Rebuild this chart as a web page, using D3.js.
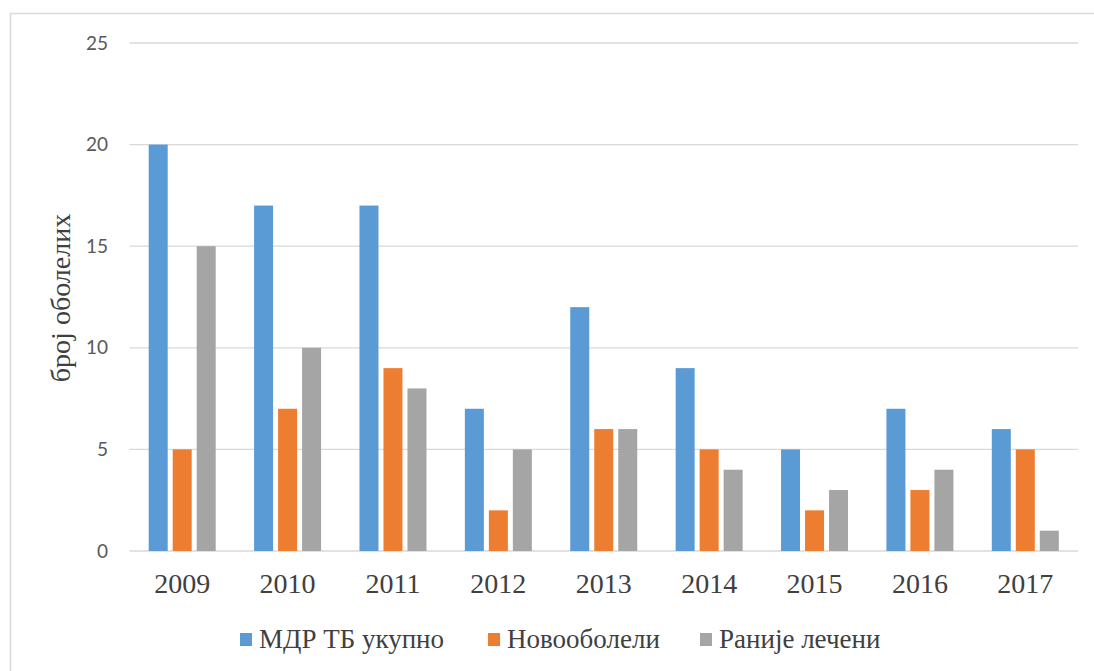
<!DOCTYPE html>
<html>
<head>
<meta charset="utf-8">
<script src="https://cdn.jsdelivr.net/npm/d3@7"></script>
<style>
  body { margin: 0; background: #fff; }
</style>
</head>
<body>
<div class="chart"></div>
<script>
const years = ["2009", "2010", "2011", "2012", "2013", "2014", "2015", "2016", "2017"];
const seriesNames = ["МДР ТБ укупно", "Новооболели", "Раније лечени"];
const totalMdr = [20, 17, 17, 7, 12, 9, 5, 7, 6];
const newCases = [5, 7, 9, 2, 6, 5, 2, 3, 5];
const treatedBefore = [15, 10, 8, 5, 6, 4, 3, 4, 1];
const yTicks = [0, 5, 10, 15, 20, 25];
const colors = ["#5b9bd5", "#ed7d31", "#a5a5a5"];

const width = 1094, height = 671;
const serif = "Liberation Serif";
const allSeries = [totalMdr, newCases, treatedBefore];

const svg = d3.select(".chart").append("svg")
    .attr("width", width)
    .attr("height", height);

// chart frame
svg.append("rect")
    .attr("x", 10.5).attr("y", 13.5)
    .attr("width", width + 20).attr("height", height + 20)
    .attr("fill", "#fff")
    .attr("stroke", "#d9d9d9")
    .attr("stroke-width", 1.5);

const x = d3.scaleBand()
    .domain(years)
    .range([129.5, 1078]);

const y = d3.scaleLinear()
    .domain([0, 25])
    .range([551, 43]);

// gridlines
svg.append("g")
    .selectAll("line")
    .data(yTicks)
    .join("line")
    .attr("x1", 129.5).attr("x2", 1078)
    .attr("y1", d => y(d)).attr("y2", d => y(d))
    .attr("stroke", "#d9d9d9")
    .attr("stroke-width", 1.3);

// y labels
svg.append("g")
    .selectAll("text")
    .data(yTicks)
    .join("text")
    .attr("x", 108)
    .attr("y", d => y(d))
    .attr("dy", "0.35em")
    .attr("text-anchor", "end")
    .attr("fill", "#595959")
    .attr("font-family", "Lato")
    .attr("font-size", 19)
    .text(d => d);

// bars
const barW = 19, step = 24;
allSeries.forEach((vals, s) => {
    svg.append("g")
        .selectAll("rect")
        .data(vals)
        .join("rect")
        .attr("x", (d, i) => x(years[i]) + x.bandwidth() / 2 + (s - 1) * step - barW / 2)
        .attr("y", d => y(d))
        .attr("width", barW)
        .attr("height", d => y(0) - y(d))
        .attr("fill", colors[s]);
});

// x labels
svg.append("g")
    .selectAll("text")
    .data(years)
    .join("text")
    .attr("x", d => x(d) + x.bandwidth() / 2)
    .attr("y", 593)
    .attr("text-anchor", "middle")
    .attr("fill", "#404040")
    .attr("font-family", serif)
    .attr("font-size", 28)
    .text(d => d);

// y axis title
svg.append("text")
    .attr("transform", "translate(70,298) rotate(-90)")
    .attr("text-anchor", "middle")
    .attr("fill", "#404040")
    .attr("font-family", serif)
    .attr("font-size", 28)
    .text("број оболелих");

// legend
const legendX = [240, 488, 700];
const legend = svg.append("g")
    .selectAll("g")
    .data(seriesNames)
    .join("g")
    .attr("transform", (d, i) => `translate(${legendX[i]},648)`);
legend.append("rect")
    .attr("x", 0).attr("y", -15)
    .attr("width", 12).attr("height", 13)
    .attr("fill", (d, i) => colors[i]);
legend.append("text")
    .attr("x", 19)
    .attr("fill", "#404040")
    .attr("font-family", serif)
    .attr("font-size", 27)
    .text(d => d);
</script>
</body>
</html>
